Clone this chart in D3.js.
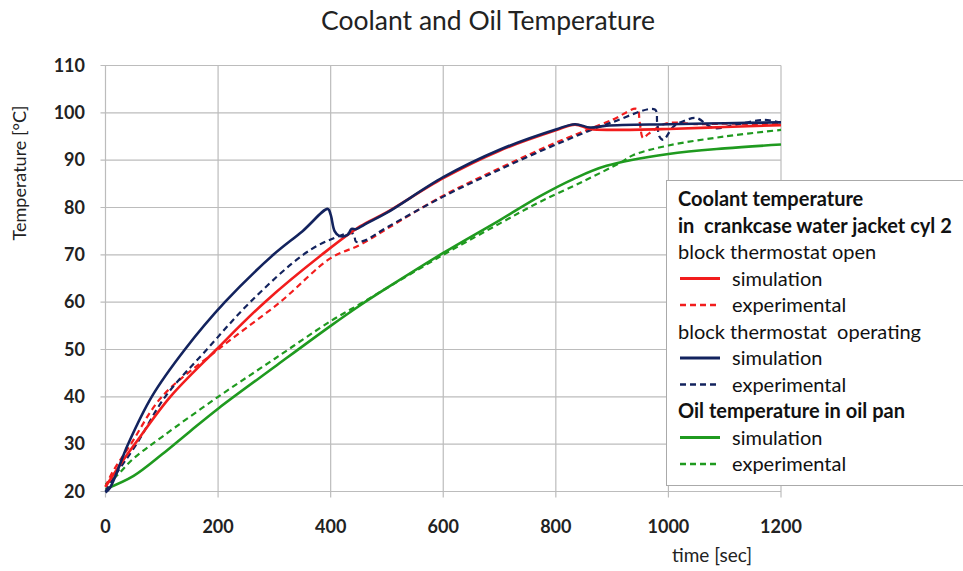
<!DOCTYPE html>
<html><head><meta charset="utf-8">
<script src="https://cdn.jsdelivr.net/npm/d3@7"></script>
<style>body{margin:0;background:#fff;} svg{display:block;font-family:Lato,"Open Sans",sans-serif;}</style>
</head><body><svg id="c" width="963" height="571"></svg>
<script>
const title = "Coolant and Oil Temperature";
const xLabel = "time [sec]";
const yLabel = "Temperature [°C]";
const xTicks = [0, 200, 400, 600, 800, 1000, 1200];
const yTicks = [20, 30, 40, 50, 60, 70, 80, 90, 100, 110];

// [time s, temperature °C]
const redSim = [[0,21],[25,25.5],[55,30.5],[115,40],[197,50],[283,60],[384,70],[452,76],[500,79],[600,86.2],[700,92],[800,96.3],[834,97.5],[861,96.6],[900,96.4],[1000,96.6],[1100,97],[1200,97.4]];
const redExp = [[0,21],[12,24],[45,30],[100,40],[200,50],[310,60],[400,69.3],[452,72.1],[500,75.5],[600,82.5],[700,88.3],[800,93.7],[900,98.5],[944,100.8],[949,98],[955,94.7],[965,95.6],[997,97.8],[1050,97.6],[1100,97.7],[1200,97.6]];
const navySim = [[0,19.8],[8,20.8],[40,30],[82,40],[141,50],[212,60],[298,70],[350,75],[395,79.7],[400,78.5],[407,75],[415,74],[430,74.2],[437,75.5],[445,75.4],[460,76.4],[500,78.9],[600,86.4],[700,92.2],[800,96.5],[834,97.6],[861,96.9],[890,97.3],[1000,97.6],[1100,97.8],[1200,98]];
const navyExp = [[0,20],[15,23],[55,30],[106,40],[180,50],[257,60],[351,70],[399,73.2],[440,74.5],[445,72.8],[460,73],[500,75.8],[600,82.3],[700,88],[800,93.3],[900,98],[976,100.7],[980,98],[984,95],[991,94.3],[1009,97.1],[1032,98.5],[1050,98.9],[1080,96.8],[1120,97.5],[1170,98.5],[1200,97.9]];
const greenSim = [[0,20.5],[50,23.3],[100,27.8],[150,32.7],[200,37.5],[300,46.3],[400,55],[452,59.3],[500,63],[600,70.4],[700,77.3],[772,82.4],[831,86],[890,88.8],[1000,91.3],[1100,92.5],[1200,93.3]];
const greenExp = [[0,21.5],[17,23],[50,27],[100,31.5],[200,40],[300,48],[400,56],[452,59.6],[500,63],[600,70],[700,76.6],[772,81.2],[850,85.6],[915,89.5],[938,91.1],[1000,93.1],[1100,95],[1200,96.4]];

const series = [
  {data: greenExp, color: "#1f9a1f", dash: "6,4"},
  {data: greenSim, color: "#1f9a1f", dash: null},
  {data: redExp, color: "#f21d1d", dash: "6,4"},
  {data: navyExp, color: "#13235e", dash: "6,4"},
  {data: redSim, color: "#f21d1d", dash: null},
  {data: navySim, color: "#13235e", dash: null}
];

const legendRows = [
  {text: "Coolant temperature", bold: true},
  {text: "in  crankcase water jacket cyl 2", bold: true},
  {text: "block thermostat open", bold: false},
  {text: "simulation", color: "#f21d1d", dash: null},
  {text: "experimental", color: "#f21d1d", dash: "6,4"},
  {text: "block thermostat  operating", bold: false},
  {text: "simulation", color: "#13235e", dash: null},
  {text: "experimental", color: "#13235e", dash: "6,4"},
  {text: "Oil temperature in oil pan", bold: true},
  {text: "simulation", color: "#1f9a1f", dash: null},
  {text: "experimental", color: "#1f9a1f", dash: "6,4"}
];

const svg = d3.select("#c");
const x = d3.scaleLinear().domain([0, 1200]).range([105.5, 781]);
const y = d3.scaleLinear().domain([20, 110]).range([491.5, 65.5]);
const grid = "#bcbcbc";

// grid
svg.append("g").selectAll("line").data(yTicks).join("line")
  .attr("x1", x(0) - 5).attr("x2", x(1200)).attr("y1", d => y(d)).attr("y2", d => y(d))
  .attr("stroke", grid).attr("stroke-width", 1.2);
svg.append("g").selectAll("line").data(xTicks).join("line")
  .attr("x1", d => x(d)).attr("x2", d => x(d)).attr("y1", y(110)).attr("y2", y(20) + 6)
  .attr("stroke", grid).attr("stroke-width", 1.2);

// tick labels
svg.append("g").selectAll("text").data(yTicks).join("text")
  .attr("x", 85).attr("y", d => y(d)).attr("dy", "0.35em").attr("text-anchor", "end")
  .attr("font-weight", "bold").attr("font-size", 18).attr("fill", "#222").text(d => d);
svg.append("g").selectAll("text").data(xTicks).join("text")
  .attr("x", d => x(d)).attr("y", 527).attr("dy", "0.35em").attr("text-anchor", "middle")
  .attr("font-weight", "bold").attr("font-size", 18).attr("fill", "#222").text(d => d);

// lines
const line = d3.line().x(d => x(d[0])).y(d => y(d[1])).curve(d3.curveCatmullRom.alpha(0.5));
svg.append("g").selectAll("path").data(series).join("path")
  .attr("d", d => line(d.data)).attr("fill", "none").attr("stroke", d => d.color)
  .attr("stroke-width", d => d.dash ? 2.2 : 2.6)
  .attr("stroke-dasharray", d => d.dash);

// titles
svg.append("text").attr("x", 488).attr("y", 30).attr("text-anchor", "middle")
  .attr("font-size", 26.5).attr("fill", "#222").text(title);
svg.append("text").attr("transform", "translate(26,173) rotate(-90)").attr("text-anchor", "middle")
  .attr("font-size", 18).attr("fill", "#222").text(yLabel);
svg.append("text").attr("x", 712).attr("y", 562).attr("text-anchor", "middle")
  .attr("font-size", 19).attr("fill", "#222").text(xLabel);

// legend
const lg = svg.append("g");
lg.append("rect").attr("x", 666.5).attr("y", 180.5).attr("width", 320).attr("height", 305)
  .attr("fill", "#fff").attr("stroke", "#aaa").attr("stroke-width", 1);
const rows = lg.selectAll("g").data(legendRows).join("g")
  .attr("transform", (d, i) => `translate(0,${199 + i * 26.5})`);
rows.filter(d => d.color).append("line")
  .attr("x1", 680).attr("x2", 720).attr("y1", 0).attr("y2", 0)
  .attr("stroke", d => d.color).attr("stroke-width", d => d.dash ? 2.4 : 2.8)
  .attr("stroke-dasharray", d => d.dash);
rows.append("text")
  .attr("x", d => d.color ? 732 : 678).attr("dy", "0.35em")
  .attr("font-size", 20).attr("font-weight", d => d.bold ? "bold" : "normal")
  .attr("fill", "#111").style("white-space", "pre").text(d => d.text);
</script></body></html>
